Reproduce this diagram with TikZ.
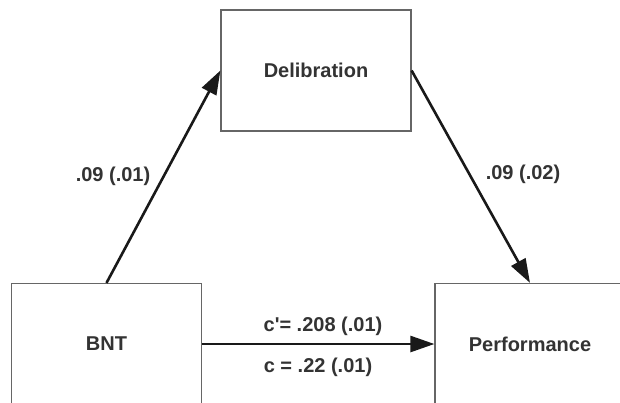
\documentclass[tikz,border=0pt]{standalone}
\usepackage{fontspec}
\setmainfont{Liberation Sans}
\usepackage{tikz}
\usetikzlibrary{positioning,arrows.meta}
\usepackage{xcolor}
\definecolor{txtgray}{HTML}{333333}
\definecolor{boxgray}{HTML}{666666}

\begin{document}
\begin{tikzpicture}[x=1pt, y=-1pt, every node/.style={font=\fontsize{20}{24}\selectfont\bfseries, text=txtgray}]
\tikzstyle{box}=[draw=boxgray, line width=1.2pt, minimum width=190pt, minimum height=121pt, align=center]
\tikzstyle{path}=[-{Triangle[length=24pt, width=16pt]}, line width=2.6pt, black!90]
\clip (0,0) rectangle (620,402);
\fill[white] (0,0) rectangle (620,402);
\node[box] (del) at (316,70.5) {Delibration};
\node[box] (bnt) at (106.5,344) {BNT};
\node[box] (perf) at (530,344) {Performance};
\draw[path] (bnt.north)--(del.west);
\draw[path] (del.east)--(perf.north);
\draw[path] (bnt.east)--(perf.west);
\node (a) at (113,176) {.09 (.01)};
\node (b) at (523,174) {.09 (.02)};
\node (cp) at (323,326) {c\textquotesingle= .208 (.01)};
\node (c) at (318,367) {c = .22 (.01)};
\end{tikzpicture}
\end{document}
